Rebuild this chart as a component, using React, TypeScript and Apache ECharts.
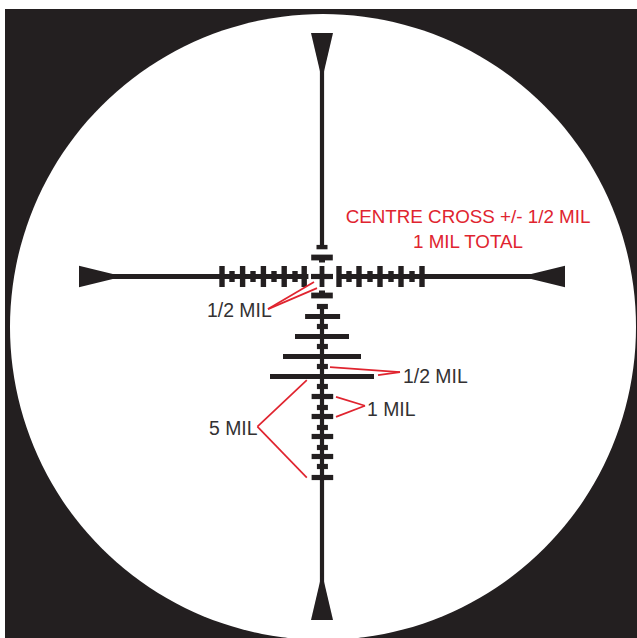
import React, { useEffect, useRef } from "react";
import * as echarts from "echarts";

// All positions are in MIL, measured from the centre of the cross (y grows downward).
const INK = "#231f20";
const RED = "#e0242f";
const TEXT = "#333132";

// [centre x, centre y, width, height]
const lineSegments = [
  [-6.14, 0, 10.92, 0.26],
  [6.2, 0, 10.9, 0.26],
  [0, -6.525, 0.21, 10.1],
  [0, 9.025, 0.21, 15.3],
  [0, 0, 1.1, 0.26],
  [0, 0, 0.24, 1.05],
];
const topMarks = [
  [0, -1.47, 0.55, 0.22],
  [0, -0.95, 1.08, 0.29],
  [0, -0.8, 0.3, 0.2],
  [0, 0.95, 1.08, 0.29],
  [0, 0.8, 0.3, 0.2],
];
const horizontalMajorTicks = [-5, -3.97, -2.93, -1.89, -0.89, 0.85, 1.85, 2.9, 3.95, 5];
const horizontalMinorTicks = [-4.5, -3.45, -2.4, -1.35, 1.35, 2.4, 3.45, 4.5];
// [y, length, x offset]
const stadiaBars = [
  [2, 1.75, 0.03],
  [3, 2.7, 0],
  [4, 3.9, 0],
  [5, 5.2, 0],
];
const verticalMajorBars = [6, 7, 8, 9, 10.05];
const verticalHalfBars = [1.5, 2.5, 3.5, 4.5, 5.5, 6.55, 7.55, 8.55, 9.5];
// [base x1, base y1, base x2, base y2, tip x, tip y]
const posts = [
  [-12.15, -0.54, -12.15, 0.54, -9.95, 0],
  [12.15, -0.54, 12.15, 0.54, 9.95, 0],
  [-0.55, -12.18, 0.55, -12.18, 0, -9.83],
  [-0.55, 17.17, 0.55, 17.17, 0, 14.82],
];
// [x1, y1, x2, y2]
const leaders = [
  [-2.7, 1.63, -0.4, 0.28],
  [-2.7, 1.63, -0.25, 0.58],
  [0.4, 4.53, 3.9, 4.78],
  [2.8, 4.93, 3.9, 4.78],
  [0.7, 6.02, 2.15, 6.46],
  [0.7, 7.02, 2.15, 6.46],
  [-3.23, 7.51, -0.76, 5.18],
  [-3.23, 7.51, -0.76, 10.06],
];
const labelTexts = ["CENTRE CROSS +/- 1/2 MIL", "1 MIL TOTAL", "1/2 MIL", "1/2 MIL", "1 MIL", "5 MIL"];
const labelX = [7.3, 7.3, -5.75, 4.05, 2.25, -5.65];
const labelY = [-3.0, -1.77, 1.65, 4.97, 6.6, 7.57];
const labelColors = [RED, RED, TEXT, TEXT, TEXT, TEXT];
const labelAligns = ["center", "center", "left", "left", "left", "left"];

const rectSeries = (name: string, data: number[][]) => ({
  type: "custom",
  name,
  coordinateSystem: "cartesian2d",
  silent: true,
  clip: false,
  data,
  encode: { x: 0, y: 1 },
  renderItem: (_p: any, api: any) => {
    const c = api.coord([api.value(0), api.value(1)]);
    const s = api.size([api.value(2), api.value(3)]);
    return {
      type: "rect",
      shape: { x: c[0] - s[0] / 2, y: c[1] - s[1] / 2, width: s[0], height: s[1] },
      style: { fill: INK },
    };
  },
});

export default function App() {
  const ref = useRef<HTMLDivElement>(null);
  useEffect(() => {
    document.body.style.margin = "0";
    const chart = echarts.init(ref.current!, null, { renderer: "svg" });
    const majorRows = horizontalMajorTicks.map((x) => [x, 0, 0.27, 1.05]);
    const minorRows = horizontalMinorTicks.map((x) => [x, 0, 0.27, 0.55]);
    const stadiaRows = stadiaBars.map(([y, w, dx]) => [dx, y, w, 0.26]);
    const bigRows = verticalMajorBars.map((y) => [0.02, y, 1.08, 0.26]);
    const halfRows = verticalHalfBars.map((y) => [0.02, y, 0.55, 0.26]);
    chart.setOption({
      animation: false,
      backgroundColor: "#ffffff",
      grid: { left: 0, right: 0, top: 0, bottom: 0 },
      xAxis: { type: "value", min: -16.1, max: 15.75, show: false },
      yAxis: { type: "value", min: -13.825, max: 18.075, inverse: true, show: false },
      graphic: [
        { type: "rect", z: -2, silent: true, shape: { x: 5, y: 9, width: 632, height: 629 }, style: { fill: INK } },
        { type: "circle", z: -1, silent: true, shape: { cx: 323, cy: 327, r: 313 }, style: { fill: "#ffffff" } },
      ],
      series: [
        rectSeries("line", lineSegments),
        rectSeries("marks", topMarks),
        rectSeries("major", majorRows),
        rectSeries("minor", minorRows),
        rectSeries("stadia", stadiaRows),
        rectSeries("big", bigRows),
        rectSeries("half", halfRows),
        {
          type: "custom",
          name: "posts",
          coordinateSystem: "cartesian2d",
          silent: true,
          clip: false,
          data: posts,
          encode: { x: 0, y: 1 },
          renderItem: (_p: any, api: any) => ({
            type: "polygon",
            shape: {
              points: [
                api.coord([api.value(0), api.value(1)]),
                api.coord([api.value(2), api.value(3)]),
                api.coord([api.value(4), api.value(5)]),
              ],
            },
            style: { fill: INK },
          }),
        },
        {
          type: "custom",
          name: "leaders",
          coordinateSystem: "cartesian2d",
          silent: true,
          clip: false,
          data: leaders,
          encode: { x: 0, y: 1 },
          renderItem: (_p: any, api: any) => {
            const a = api.coord([api.value(0), api.value(1)]);
            const b = api.coord([api.value(2), api.value(3)]);
            return {
              type: "line",
              shape: { x1: a[0], y1: a[1], x2: b[0], y2: b[1] },
              style: { stroke: RED, lineWidth: 1.7 },
            };
          },
        },
        {
          type: "custom",
          name: "labels",
          coordinateSystem: "cartesian2d",
          silent: true,
          clip: false,
          data: labelX.map((x, i) => [x, labelY[i]]),
          encode: { x: 0, y: 1 },
          renderItem: (p: any, api: any) => {
            const c = api.coord([api.value(0), api.value(1)]);
            const size = labelColors[p.dataIndex] === RED ? 18.8 : 19.4;
            return {
              type: "text",
              x: c[0],
              y: c[1],
              style: {
                text: labelTexts[p.dataIndex],
                fill: labelColors[p.dataIndex],
                font: `${size}px "Liberation Sans", Arial, sans-serif`,
                align: labelAligns[p.dataIndex],
                verticalAlign: "middle",
              },
            };
          },
        },
      ],
    });
    return () => chart.dispose();
  }, []);
  return <div ref={ref} style={{ position: "absolute", left: 0, top: 0, width: 637, height: 638, overflow: "hidden" }} />;
}
